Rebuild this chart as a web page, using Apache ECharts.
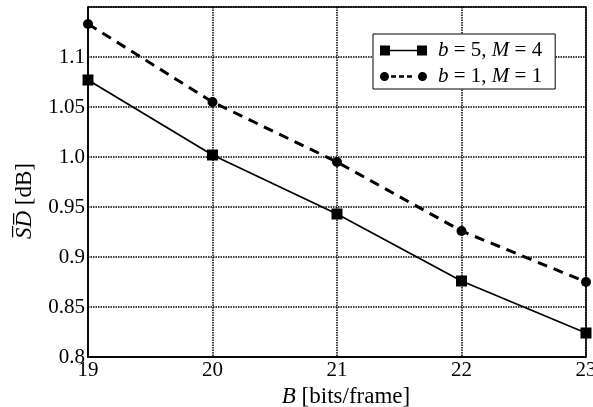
<!DOCTYPE html>
<html>
<head>
<meta charset="utf-8">
<script src="https://cdn.jsdelivr.net/npm/echarts@6/dist/echarts.min.js"></script>
<style>
  html, body { margin: 0; padding: 0; background: #fff; }
  #chart { width: 593px; height: 407px; }
</style>
</head>
<body>
<div id="chart"></div>
<script>
// Bit budget per frame (x) and mean spectral distortion in dB (y)
const bits = [19, 20, 21, 22, 23];
const sdB5M4 = [1.077, 1.002, 0.943, 0.876, 0.824];
const sdB1M1 = [1.133, 1.055, 0.995, 0.926, 0.875];
const seriesNames = ['b = 5, M = 4', 'b = 1, M = 1'];
const legendRich = ['{i|b} = 5, {i|M} = 4', '{i|b} = 1, {i|M} = 1'];

const FONT = '"Liberation Serif", "Times New Roman", serif';

// Legend glyphs: marker - line - marker
const squareLineIcon = 'path://M0,0h10v10h-10Z M10,4.2h27v1.6h-27Z M37,0h10v10h-10Z';
const circleDashIcon = 'path://M0,5a4.5,4.5 0 1,0 9,0a4.5,4.5 0 1,0 -9,0Z' +
  'M11,3.8h5v2.4h-5Z M19,3.8h5v2.4h-5Z M27,3.8h5v2.4h-5Z' +
  'M38,5a4.5,4.5 0 1,0 9,0a4.5,4.5 0 1,0 -9,0Z';

function pairs(xs, ys) { return xs.map((x, i) => [x, ys[i]]); }

function yLabel(v) {
  if (v > 1.12) return '';
  let s = String(+v.toFixed(2));
  if (s.indexOf('.') < 0) s += '.0';
  return s;
}

const chart = echarts.init(document.getElementById('chart'), null, { renderer: 'canvas' });
chart.setOption({
  animation: false,
  backgroundColor: '#fff',
  grid: {
    left: 88, right: 7, top: 7, bottom: 50,
    outerBoundsMode: 'none',
    containLabel: false,
    show: true, borderColor: '#000', borderWidth: 1.5
  },
  legend: {
    left: 373, top: 34,
    orient: 'vertical',
    backgroundColor: '#fff',
    borderColor: '#000', borderWidth: 1,
    borderRadius: 0,
    padding: [6, 13, 2, 7],
    itemGap: 5,
    itemWidth: 47, itemHeight: 10,
    data: [
      { name: seriesNames[0], icon: squareLineIcon },
      { name: seriesNames[1], icon: circleDashIcon }
    ],
    formatter: name => legendRich[seriesNames.indexOf(name)],
    textStyle: {
      fontFamily: FONT, fontSize: 21, color: '#000',
      padding: [0, 0, 0, 6],
      rich: { i: { fontFamily: FONT, fontSize: 21, fontStyle: 'italic', color: '#000' } }
    }
  },
  xAxis: {
    type: 'value', min: 19, max: 23, interval: 1,
    name: '{i|B} [bits/frame]',
    nameLocation: 'middle', nameGap: 24,
    nameTextStyle: {
      fontFamily: FONT, fontSize: 23, color: '#000',
      padding: [0, 0, 0, 18],
      rich: { i: { fontFamily: FONT, fontSize: 23, fontStyle: 'italic', color: '#000' } }
    },
    axisLine: { show: true, lineStyle: { color: '#000', width: 1.5 } },
    axisTick: { show: false },
    axisLabel: { fontFamily: FONT, fontSize: 21, color: '#000', margin: 3 },
    splitLine: { show: true, lineStyle: { color: '#000', width: 1.5, type: [1.5, 1] } }
  },
  yAxis: {
    type: 'value', min: 0.8, max: 1.15, interval: 0.05,
    name: '{o|S\u0305D\u0305} [dB]',
    nameLocation: 'middle', nameGap: 52,
    nameTextStyle: {
      fontFamily: FONT, fontSize: 23, color: '#000',
      padding: [0, 38, 0, 0],
      rich: { o: { fontFamily: FONT, fontSize: 23, fontStyle: 'italic', color: '#000' } }
    },
    axisLine: { show: true, lineStyle: { color: '#000', width: 1.5 } },
    axisTick: { show: false },
    axisLabel: { fontFamily: FONT, fontSize: 21, color: '#000', margin: 3, formatter: yLabel },
    splitLine: { show: true, lineStyle: { color: '#000', width: 1.5, type: [1.5, 1] } }
  },
  series: [
    {
      name: seriesNames[0], type: 'line',
      data: pairs(bits, sdB5M4),
      symbol: 'rect', symbolSize: 11,
      itemStyle: { color: '#000' },
      lineStyle: { color: '#000', width: 1.8, type: 'solid' },
      z: 3
    },
    {
      name: seriesNames[1], type: 'line',
      data: pairs(bits, sdB1M1),
      symbol: 'circle', symbolSize: 10,
      itemStyle: { color: '#000' },
      lineStyle: { color: '#000', width: 3, type: [10, 7] },
      z: 3
    }
  ]
});
</script>
</body>
</html>
